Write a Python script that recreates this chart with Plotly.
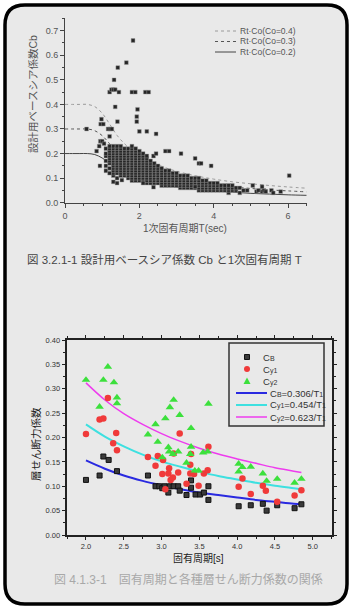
import plotly.graph_objects as go

W, H = 351, 608

# ---------------- Top chart data (Fig 3.2.1-1) ----------------
rt_T = [0.0, 0.2, 0.4, 0.6, 0.8, 1.0, 1.2, 1.4, 1.6, 1.8, 2.0, 2.5, 3.0, 3.5, 4.0, 4.5, 5.0, 5.5, 6.0, 6.5]
rt_co04 = [0.4, 0.4, 0.4, 0.4, 0.391, 0.364, 0.32, 0.274, 0.24, 0.213, 0.192, 0.154, 0.128, 0.110, 0.096, 0.085, 0.077, 0.070, 0.064, 0.059]
rt_co03 = [0.3, 0.3, 0.3, 0.3, 0.293, 0.273, 0.24, 0.206, 0.18, 0.16, 0.144, 0.115, 0.096, 0.082, 0.072, 0.064, 0.058, 0.052, 0.048, 0.044]
rt_co02 = [0.2, 0.2, 0.2, 0.2, 0.196, 0.182, 0.16, 0.137, 0.12, 0.107, 0.096, 0.077, 0.064, 0.055, 0.048, 0.043, 0.038, 0.035, 0.032, 0.030]

cloud_T = [1.1, 1.2, 1.3, 1.4, 1.5, 1.6, 1.7, 1.8, 1.9, 2.0, 2.1, 2.2, 2.3, 2.4, 2.5, 2.6, 2.7, 2.8, 2.9,
           3.0, 3.1, 3.2, 3.3, 3.4, 3.5, 3.6, 3.7, 3.8, 3.9, 4.0, 4.1, 4.2, 4.3, 4.4, 4.5, 4.6, 4.7, 4.8]
cloud_Cb = [
    [0.13, 0.15, 0.17, 0.19, 0.20, 0.22],
    [0.12, 0.14, 0.16, 0.17, 0.18, 0.19, 0.20, 0.21, 0.22, 0.23],
    [0.11, 0.12, 0.13, 0.14, 0.15, 0.16, 0.17, 0.18, 0.19, 0.20, 0.21, 0.22, 0.23],
    [0.10, 0.12, 0.13, 0.14, 0.15, 0.16, 0.17, 0.18, 0.19, 0.20, 0.21, 0.22, 0.23],
    [0.11, 0.12, 0.13, 0.14, 0.15, 0.16, 0.17, 0.18, 0.19, 0.20, 0.21, 0.22, 0.23],
    [0.11, 0.12, 0.13, 0.14, 0.15, 0.16, 0.17, 0.18, 0.19, 0.20, 0.21, 0.22],
    [0.10, 0.11, 0.12, 0.13, 0.14, 0.15, 0.16, 0.17, 0.18, 0.19, 0.20, 0.21, 0.22],
    [0.09, 0.10, 0.11, 0.12, 0.13, 0.14, 0.15, 0.16, 0.17, 0.18, 0.19, 0.20, 0.21, 0.22, 0.23],
    [0.09, 0.10, 0.11, 0.12, 0.13, 0.14, 0.15, 0.16, 0.17, 0.18, 0.19, 0.20, 0.21, 0.22],
    [0.09, 0.10, 0.11, 0.12, 0.13, 0.14, 0.15, 0.16, 0.17, 0.18, 0.19, 0.20, 0.21],
    [0.09, 0.10, 0.11, 0.12, 0.13, 0.14, 0.15, 0.16, 0.17, 0.18, 0.19, 0.20],
    [0.08, 0.09, 0.10, 0.11, 0.12, 0.13, 0.14, 0.15, 0.16, 0.17, 0.18, 0.19],
    [0.08, 0.09, 0.10, 0.11, 0.12, 0.13, 0.14, 0.15, 0.16, 0.17],
    [0.08, 0.09, 0.10, 0.11, 0.12, 0.13, 0.14, 0.15, 0.16],
    [0.08, 0.09, 0.10, 0.11, 0.12, 0.13, 0.14, 0.15],
    [0.07, 0.08, 0.09, 0.10, 0.11, 0.12, 0.13, 0.14],
    [0.07, 0.08, 0.09, 0.10, 0.11, 0.12, 0.13],
    [0.07, 0.08, 0.09, 0.10, 0.11, 0.12, 0.13],
    [0.07, 0.08, 0.09, 0.10, 0.11, 0.12],
    [0.07, 0.08, 0.09, 0.10, 0.11, 0.12],
    [0.06, 0.07, 0.08, 0.09, 0.10, 0.11],
    [0.06, 0.07, 0.08, 0.09, 0.10, 0.11],
    [0.06, 0.07, 0.08, 0.09, 0.10, 0.11],
    [0.06, 0.07, 0.08, 0.09, 0.10],
    [0.06, 0.07, 0.08, 0.09, 0.10],
    [0.05, 0.06, 0.07, 0.08, 0.09, 0.10],
    [0.05, 0.06, 0.07, 0.08, 0.09],
    [0.05, 0.06, 0.07, 0.08, 0.09],
    [0.05, 0.06, 0.07, 0.08],
    [0.05, 0.06, 0.07, 0.08],
    [0.05, 0.06, 0.07, 0.08],
    [0.05, 0.06, 0.07],
    [0.05, 0.06, 0.07],
    [0.04, 0.05, 0.06, 0.07],
    [0.05, 0.06, 0.07],
    [0.05, 0.06],
    [0.04, 0.06],
    [0.05],
]

scatter_T = [1.83, 1.65, 1.42, 1.32, 1.20, 1.25, 1.30, 1.35, 1.45, 1.80, 1.89, 2.16, 2.25,
             1.35, 1.95, 1.93, 1.93, 1.41, 0.98, 0.96, 1.03, 0.58, 1.16, 1.21, 1.26, 1.20,
             2.00, 2.20, 2.45, 0.95, 1.00, 1.05, 0.92, 2.70, 2.80, 2.38, 2.45, 3.12, 3.50,
             3.60, 3.66, 3.93, 6.03, 0.94, 1.30, 1.40, 1.53, 2.38, 3.50, 0.85, 2.10,
             5.05, 5.15, 5.20, 5.30, 5.35, 5.40, 5.55, 5.60, 5.80, 5.30, 4.90]
scatter_Cb = [0.66, 0.57, 0.55, 0.50, 0.45, 0.46, 0.46, 0.46, 0.45, 0.45, 0.45, 0.45, 0.45,
              0.39, 0.38, 0.35, 0.33, 0.33, 0.34, 0.32, 0.32, 0.30, 0.30, 0.30, 0.30, 0.27,
              0.29, 0.29, 0.28, 0.25, 0.25, 0.24, 0.23, 0.21, 0.21, 0.19, 0.20, 0.20, 0.18,
              0.16, 0.16, 0.15, 0.11, 0.15, 0.085, 0.08, 0.092, 0.063, 0.065, 0.21, 0.08,
              0.07, 0.045, 0.05, 0.045, 0.05, 0.045, 0.05, 0.04, 0.045, 0.065, 0.05]

# ---------------- Bottom chart data (Fig 4.1.3-1) ----------------
cb_T = [2.00, 2.18, 2.23, 2.30, 2.41, 2.82, 2.92, 2.97, 3.01, 3.04, 3.09, 3.11, 3.16, 3.22, 3.24,
        3.33, 3.39, 3.39, 3.45, 3.51, 3.56, 3.62, 3.62, 4.02, 4.18, 4.34, 4.39, 4.53, 4.76, 4.85]
cb_val = [0.113, 0.122, 0.161, 0.154, 0.131, 0.122, 0.100, 0.100, 0.096, 0.100, 0.087, 0.100, 0.100, 0.100, 0.091,
          0.082, 0.112, 0.097, 0.083, 0.083, 0.087, 0.072, 0.100, 0.059, 0.061, 0.064, 0.050, 0.061, 0.055, 0.063]

cy1_T = [2.00, 2.18, 2.23, 2.29, 2.36, 2.40, 2.41, 2.82, 2.92, 2.95, 3.01, 3.02, 3.05, 3.09, 3.10,
         3.12, 3.15, 3.16, 3.22, 3.24, 3.33, 3.38, 3.39, 3.38, 3.43, 3.49, 3.56, 3.61, 3.62,
         4.02, 4.07, 4.18, 4.34, 4.38, 4.53, 4.76, 4.85]
cy1_val = [0.207, 0.237, 0.239, 0.281, 0.188, 0.209, 0.174, 0.160, 0.142, 0.162, 0.125, 0.154, 0.094, 0.126, 0.137,
           0.113, 0.118, 0.167, 0.128, 0.208, 0.105, 0.144, 0.166, 0.126, 0.125, 0.101, 0.126, 0.133, 0.181,
           0.099, 0.116, 0.084, 0.101, 0.091, 0.068, 0.081, 0.092]

cy2_T = [2.00, 2.18, 2.23, 2.29, 2.37, 2.41, 2.41, 2.82, 2.92, 2.95, 3.01, 3.05, 3.09, 3.11, 3.10,
         3.15, 3.16, 3.22, 3.24, 3.33, 3.39, 3.39, 3.38, 3.44, 3.49, 3.55, 3.61, 3.62,
         4.02, 4.02, 4.07, 4.18, 4.34, 4.39, 4.53, 4.76, 4.85]
cy2_val = [0.318, 0.263, 0.318, 0.345, 0.313, 0.282, 0.270, 0.206, 0.227, 0.191, 0.159, 0.239, 0.180, 0.262, 0.171,
           0.166, 0.277, 0.171, 0.246, 0.148, 0.219, 0.181, 0.166, 0.132, 0.132, 0.169, 0.171, 0.269,
           0.130, 0.146, 0.139, 0.140, 0.126, 0.111, 0.115, 0.107, 0.115]

fit_T = [2.0, 2.25, 2.5, 2.75, 3.0, 3.25, 3.5, 3.75, 4.0, 4.25, 4.5, 4.75, 4.85]
fit_cb = [0.153, 0.136, 0.122, 0.111, 0.102, 0.094, 0.087, 0.082, 0.077, 0.072, 0.068, 0.064, 0.063]
fit_cy1 = [0.227, 0.202, 0.182, 0.165, 0.151, 0.140, 0.130, 0.121, 0.114, 0.107, 0.101, 0.096, 0.094]
fit_cy2 = [0.312, 0.277, 0.249, 0.227, 0.208, 0.192, 0.178, 0.166, 0.156, 0.147, 0.138, 0.131, 0.128]

# ---------------- helpers ----------------
def PX(x):
    return x / W

def PY(y):
    return 1 - y / H

FONT = "Liberation Sans, Noto Sans CJK JP, sans-serif"

fig = go.Figure()

# top chart traces
fig.add_trace(go.Scatter(x=rt_T, y=rt_co04, mode="lines", line=dict(color="#9a9a9a", width=1, dash="dot", shape="spline"),
                         name="Rt·Co(Co=0.4)", showlegend=False, xaxis="x", yaxis="y"))
fig.add_trace(go.Scatter(x=rt_T, y=rt_co03, mode="lines", line=dict(color="#555555", width=1, dash="dot", shape="spline"),
                         name="Rt·Co(Co=0.3)", showlegend=False, xaxis="x", yaxis="y"))
fig.add_trace(go.Scatter(x=rt_T, y=rt_co02, mode="lines", line=dict(color="#444444", width=1, shape="spline"),
                         name="Rt·Co(Co=0.2)", showlegend=False, xaxis="x", yaxis="y"))

cx, cy = [], []
for t, vals in zip(cloud_T, cloud_Cb):
    for v in vals:
        cx.append(t)
        cy.append(v)
fig.add_trace(go.Scatter(x=cx + scatter_T, y=cy + scatter_Cb, mode="markers",
                         marker=dict(symbol="square", size=3.8, color="#262626", line=dict(width=0.45, color="#9c9c9c")),
                         name="Cb", showlegend=False, xaxis="x", yaxis="y"))

# bottom chart traces
fig.add_trace(go.Scatter(x=fit_T, y=fit_cb, mode="lines", name="CB=0.306/T1", showlegend=False,
                         line=dict(color="#2a2ae0", width=2, shape="spline"), xaxis="x2", yaxis="y2"))
fig.add_trace(go.Scatter(x=fit_T, y=fit_cy1, mode="lines", name="Cy1=0.454/T1", showlegend=False,
                         line=dict(color="#3ee0e0", width=2, shape="spline"), xaxis="x2", yaxis="y2"))
fig.add_trace(go.Scatter(x=fit_T, y=fit_cy2, mode="lines", name="Cy2=0.623/T1", showlegend=False,
                         line=dict(color="#ee3cee", width=1.5, shape="spline"), xaxis="x2", yaxis="y2"))
fig.add_trace(go.Scatter(x=cb_T, y=cb_val, mode="markers", name="CB", showlegend=False,
                         marker=dict(symbol="square", size=5, color="#3a3a3a", line=dict(color="#111111", width=1)),
                         xaxis="x2", yaxis="y2"))
fig.add_trace(go.Scatter(x=cy1_T, y=cy1_val, mode="markers", name="Cy1", showlegend=False,
                         marker=dict(symbol="circle", size=6.5, color="#f03a3a", line=dict(width=0)),
                         xaxis="x2", yaxis="y2"))
fig.add_trace(go.Scatter(x=cy2_T, y=cy2_val, mode="markers", name="Cy2", showlegend=False,
                         marker=dict(symbol="triangle-up", size=7.5, color="#3ce03c", line=dict(width=0)),
                         xaxis="x2", yaxis="y2"))

# ---------------- page frame ----------------
x0, x1, y0, y1, r = 5, 347, 5, 604, 20
path = (f"M {PX(x0 + r)} {PY(y0)} L {PX(x1 - r)} {PY(y0)} Q {PX(x1)} {PY(y0)} {PX(x1)} {PY(y0 + r)} "
        f"L {PX(x1)} {PY(y1 - r)} Q {PX(x1)} {PY(y1)} {PX(x1 - r)} {PY(y1)} "
        f"L {PX(x0 + r)} {PY(y1)} Q {PX(x0)} {PY(y1)} {PX(x0)} {PY(y1 - r)} "
        f"L {PX(x0)} {PY(y0 + r)} Q {PX(x0)} {PY(y0)} {PX(x0 + r)} {PY(y0)} Z")
shapes = [dict(type="path", path=path, xref="paper", yref="paper", layer="below",
               fillcolor="#e9e9e9", line=dict(color="#000000", width=3.5))]

annotations = []

def ann(text, x, y, size, color, xanchor="center", angle=0, family=FONT):
    annotations.append(dict(text=text, x=PX(x), y=PY(y), xref="paper", yref="paper", showarrow=False,
                            xanchor=xanchor, yanchor="middle", textangle=angle,
                            font=dict(size=size, color=color, family=family)))

def small(s):
    return f"<span style='font-size:7px'>{s}</span>"

# top chart labels
ann("設計用ベースシア係数Cb", 33, 94, 10.5, "#555555", angle=-90)
ann("1次固有周期T(sec)", 185, 228, 10, "#555555")
ann("図 3.2.1-1 設計用ベースシア係数 Cb と1次固有周期 T", 164.5, 259, 11.5, "#444444")

# top legend
top_leg = [("Rt·Co(Co=0.4)", "#9a9a9a", "dot", 31), ("Rt·Co(Co=0.3)", "#555555", "dot", 41.5),
           ("Rt·Co(Co=0.2)", "#444444", "solid", 52)]
for txt, col, dash, yy in top_leg:
    shapes.append(dict(type="line", xref="paper", yref="paper", x0=PX(215), x1=PX(236), y0=PY(yy), y1=PY(yy),
                       line=dict(color=col, width=1, dash=dash)))
    ann(txt, 238, yy, 8.5, "#555555", xanchor="left")

# bottom chart labels
ann("層せん断力係数", 36, 444, 10.5, "#222222", angle=-90)
ann("固有周期[s]", 199, 558, 10, "#222222")
ann("図 4.1.3-1　固有周期と各種層せん断力係数の関係", 188, 579, 12, "#a8a8a8")

# bottom legend
shapes.append(dict(type="rect", xref="paper", yref="paper", x0=PX(229), x1=PX(324), y0=PY(343), y1=PY(426),
                   line=dict(color="#333333", width=1.5), fillcolor="rgba(0,0,0,0)"))
shapes.append(dict(type="rect", xref="paper", yref="paper", x0=PX(244.5), x1=PX(249.5), y0=PY(354.5), y1=PY(359.5),
                   line=dict(color="#111111", width=1), fillcolor="#3a3a3a"))
shapes.append(dict(type="circle", xref="paper", yref="paper", x0=PX(244), x1=PX(250), y0=PY(366), y1=PY(372),
                   line=dict(width=0), fillcolor="#f03a3a"))
shapes.append(dict(type="path", xref="paper", yref="paper",
                   path=f"M {PX(243.5)} {PY(384)} L {PX(250.5)} {PY(384)} L {PX(247)} {PY(377.5)} Z",
                   line=dict(width=0), fillcolor="#3ce03c"))
for yy, col, wdt in [(393, "#2a2ae0", 2), (405, "#3ee0e0", 2), (417, "#ee3cee", 1.5)]:
    shapes.append(dict(type="line", xref="paper", yref="paper", x0=PX(236), x1=PX(267), y0=PY(yy), y1=PY(yy),
                       line=dict(color=col, width=wdt)))
ann("C" + small("B"), 261, 357, 9.5, "#333333", xanchor="left")
ann("C" + small("y1"), 261, 369, 9.5, "#333333", xanchor="left")
ann("C" + small("y2"), 261, 381, 9.5, "#333333", xanchor="left")
ann("C" + small("B") + "=0.306/T" + small("1"), 268, 393, 9.5, "#333333", xanchor="left")
ann("C" + small("y1") + "=0.454/T" + small("1"), 268, 405, 9.5, "#333333", xanchor="left")
ann("C" + small("y2") + "=0.623/T" + small("1"), 268, 417, 9.5, "#333333", xanchor="left")

fig.update_layout(
    width=W, height=H, margin=dict(l=0, r=0, t=0, b=0),
    paper_bgcolor="#ffffff", plot_bgcolor="rgba(0,0,0,0)",
    showlegend=False, font=dict(family=FONT),
    shapes=shapes, annotations=annotations,
    xaxis=dict(domain=[PX(65), PX(306.7)], range=[0, 6.5], anchor="y", showline=True, linecolor="#444444",
               linewidth=1, ticks="outside", ticklen=4, tickcolor="#444444", tickvals=[0, 2, 4, 6],
               tickfont=dict(size=9, color="#555555"), showgrid=False, zeroline=False, automargin=False,
               minor=dict(dtick=0.5, ticks="outside", ticklen=2, tickcolor="#444444", showgrid=False)),
    yaxis=dict(domain=[PY(202.7), PY(18.4)], range=[0, 0.75], anchor="x", showline=True, linecolor="#444444",
               linewidth=1, ticks="outside", ticklen=4, tickcolor="#444444",
               tickvals=[0, 0.1, 0.2, 0.3, 0.4, 0.5, 0.6, 0.7], tickformat=".1f",
               tickfont=dict(size=9, color="#555555"), showgrid=False, zeroline=False, automargin=False,
               minor=dict(dtick=0.05, ticks="outside", ticklen=2, tickcolor="#444444", showgrid=False)),
    xaxis2=dict(domain=[PX(66.7), PX(332)], range=[1.745, 5.255], anchor="y2", showline=True, linecolor="#222222",
                linewidth=2, mirror="allticks", ticks="outside", ticklen=3, tickcolor="#222222",
                tick0=2.0, dtick=0.5, tickformat=".1f", tickfont=dict(size=7.5, color="#333333"),
                showgrid=False, zeroline=False, automargin=False,
                minor=dict(dtick=0.25, tick0=2.0, ticks="outside", ticklen=2, tickcolor="#222222", showgrid=False)),
    yaxis2=dict(domain=[PY(535), PY(340)], range=[0, 0.40], anchor="x2", showline=True, linecolor="#222222",
                linewidth=2, mirror="allticks", ticks="outside", ticklen=3, tickcolor="#222222",
                tick0=0, dtick=0.05, tickformat=".2f", tickfont=dict(size=7.5, color="#333333"),
                showgrid=False, zeroline=False, automargin=False,
                minor=dict(dtick=0.025, ticks="outside", ticklen=2, tickcolor="#222222", showgrid=False)),
)

fig.write_html("out.html")
